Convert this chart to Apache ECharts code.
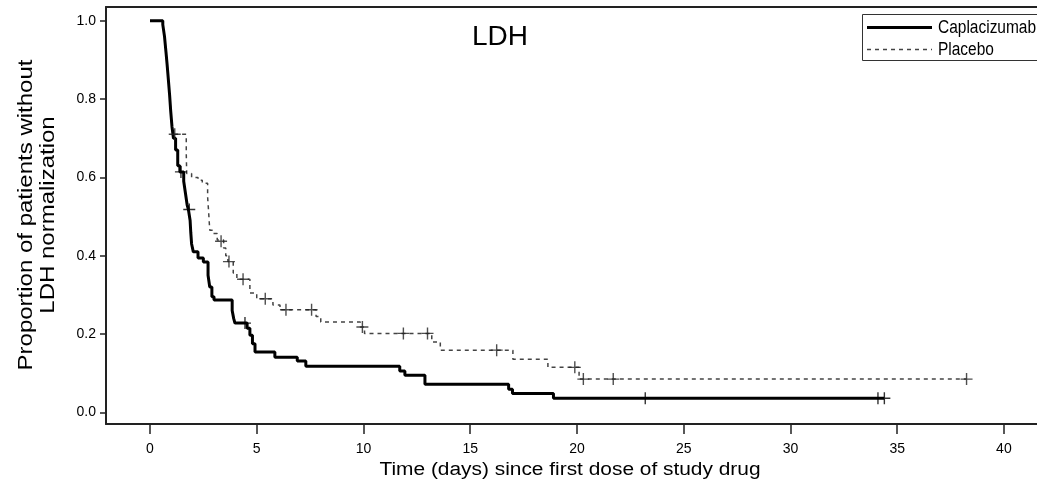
<!DOCTYPE html>
<html>
<head>
<meta charset="utf-8">
<script src="https://cdn.jsdelivr.net/npm/echarts@6/dist/echarts.min.js"></script>
<style>
html,body{margin:0;padding:0;background:#fff;}
#c{width:1037px;height:492px;}
</style>
</head>
<body>
<div id="c"></div>
<script>
// ---- data ----
const seriesNames = ['Caplacizumab', 'Placebo'];
const xTicks = [0, 5, 10, 15, 20, 25, 30, 35, 40];
const yTicks = [0, 0.2, 0.4, 0.6, 0.8, 1.0];

// Kaplan-Meier steps: [time (days), proportion after step]
const capSteps = [
  [0, 1.0], [0.6, 0.99], [0.68, 0.96], [0.75, 0.92], [0.8, 0.89], [0.86, 0.85],
  [0.92, 0.81], [0.97, 0.77], [1.03, 0.73], [1.1, 0.70], [1.2, 0.67], [1.3, 0.63],
  [1.4, 0.614], [1.58, 0.59], [1.66, 0.56], [1.74, 0.53], [1.8, 0.518], [1.88, 0.49],
  [1.91, 0.46], [1.95, 0.43], [2.03, 0.41], [2.25, 0.394], [2.5, 0.384], [2.72, 0.35],
  [2.8, 0.32], [2.9, 0.295], [3.0, 0.287], [3.85, 0.26], [3.92, 0.24], [3.98, 0.228],
  [4.55, 0.215], [4.68, 0.197], [4.8, 0.175], [4.92, 0.154], [5.85, 0.141], [6.9, 0.131],
  [7.3, 0.118], [11.7, 0.106], [11.94, 0.095], [12.88, 0.072], [16.8, 0.059],
  [16.98, 0.048], [18.9, 0.036], [34.4, 0.036]
];
const capCensor = [
  [1.45, 0.614], [1.84, 0.518], [4.45, 0.228], [23.2, 0.036], [34.1, 0.036], [34.4, 0.036]
];

const pboSteps = [
  [0, 1.0], [0.6, 0.99], [0.68, 0.96], [0.75, 0.92], [0.8, 0.89], [0.86, 0.85],
  [0.92, 0.81], [0.97, 0.77], [1.03, 0.73], [1.08, 0.71], [1.7, 0.66], [1.72, 0.61],
  [1.95, 0.60], [2.25, 0.593], [2.45, 0.585], [2.7, 0.55], [2.75, 0.51], [2.8, 0.465],
  [2.95, 0.457], [3.15, 0.44], [3.45, 0.42], [3.55, 0.40], [3.65, 0.385], [3.9, 0.356],
  [4.07, 0.34], [4.68, 0.305], [5.0, 0.29], [5.76, 0.274], [6.09, 0.262], [7.78, 0.245],
  [8.0, 0.231], [9.85, 0.218], [10.05, 0.2017], [13.2, 0.18], [13.6, 0.159],
  [17.0, 0.136], [18.64, 0.115], [20.1, 0.085], [38.25, 0.085]
];
const pboCensor = [
  [1.16, 0.71], [3.33, 0.437], [3.7, 0.385], [4.36, 0.34], [5.4, 0.29], [6.37, 0.262],
  [7.57, 0.262], [9.95, 0.218], [11.87, 0.2017], [13.0, 0.2017], [16.24, 0.159],
  [19.9, 0.115], [20.3, 0.085], [21.7, 0.085], [38.25, 0.085]
];

const chartTitle = 'LDH';
const xTitle = 'Time (days) since first dose of study drug';
const yTitle = 'Proportion of patients without\nLDH normalization';

// ---- chart ----
const plus = 'path://M0,5.3H12V6.7H0Z M5.3,0H6.7V12H5.3Z';
const regular = "'Liberation Sans', Arial, sans-serif";
const axisColor = '#222';

const chart = echarts.init(document.getElementById('c'), null, {renderer: 'canvas'});
chart.setOption({
  animation: false,
  backgroundColor: '#fff',
  grid: {left: 106, right: 0, top: 7, bottom: 68},
  title: {
    text: chartTitle, left: 467, top: 18,
    textStyle: {fontFamily: regular, fontSize: 28, fontWeight: 'normal', color: '#000'}
  },
  xAxis: [{
    type: 'value', min: -2.06, max: 41.55,
    axisLine: {show: true, onZero: false, lineStyle: {color: axisColor, width: 2}},
    axisTick: {show: true, length: 10, customValues: xTicks, lineStyle: {color: axisColor, width: 1.5}},
    axisLabel: {customValues: xTicks, margin: 18, color: '#000', fontFamily: regular, fontSize: 14},
    splitLine: {show: false}
  }, {
    type: 'value', position: 'top', min: -2.06, max: 41.55,
    axisLine: {show: true, onZero: false, lineStyle: {color: axisColor, width: 2}},
    axisTick: {show: false}, axisLabel: {show: false}, splitLine: {show: false}
  }],
  yAxis: {
    type: 'value', min: -0.0296, max: 1.035,
    axisLine: {show: true, onZero: false, lineStyle: {color: axisColor, width: 2}},
    axisTick: {show: true, length: 6, customValues: yTicks, lineStyle: {color: axisColor, width: 1.5}},
    axisLabel: {customValues: yTicks, margin: 10, color: '#000', fontFamily: regular, fontSize: 14,
      formatter: v => v.toFixed(1)},
    splitLine: {show: false}
  },
  graphic: [
    {type: 'text', x: 37, y: 215, rotation: Math.PI / 2, scaleX: 1.2,
      style: {text: yTitle, fontFamily: regular, fontSize: 20, fill: '#000',
        align: 'center', verticalAlign: 'middle', lineHeight: 22}},
    {type: 'text', x: 570, y: 470, scaleX: 1.16,
      style: {text: xTitle, fontFamily: regular, fontSize: 18, fill: '#000',
        align: 'center', verticalAlign: 'middle'}},
    {type: 'rect', shape: {x: 862.5, y: 14.5, width: 200, height: 46},
      style: {fill: '#fff', stroke: '#333', lineWidth: 1}},
    {type: 'line', shape: {x1: 867, y1: 27.5, x2: 932, y2: 27.5},
      style: {stroke: '#000', lineWidth: 3}},
    {type: 'line', shape: {x1: 867, y1: 49.5, x2: 932, y2: 49.5},
      style: {stroke: '#444', lineWidth: 1.5, lineDash: [4, 4]}},
    {type: 'text', x: 938, y: 28, scaleX: 0.86,
      style: {text: seriesNames[0], fontFamily: regular, fontSize: 18, fill: '#000', verticalAlign: 'middle'}},
    {type: 'text', x: 938, y: 50, scaleX: 0.86,
      style: {text: seriesNames[1], fontFamily: regular, fontSize: 18, fill: '#000', verticalAlign: 'middle'}}
  ],
  series: [
    {name: seriesNames[1], type: 'line', step: 'end', data: pboSteps, symbol: 'none',
      lineStyle: {color: '#444', width: 1.5, type: [4, 4]}, z: 2},
    {name: seriesNames[0], type: 'line', step: 'end', data: capSteps, symbol: 'none',
      lineStyle: {color: '#000', width: 3}, z: 3},
    {name: seriesNames[1] + ' censored', type: 'scatter', data: pboCensor, symbol: plus,
      symbolSize: 12, itemStyle: {color: '#222'}, z: 4},
    {name: seriesNames[0] + ' censored', type: 'scatter', data: capCensor, symbol: plus,
      symbolSize: 12, itemStyle: {color: '#000'}, z: 4}
  ]
});
</script>
</body>
</html>
